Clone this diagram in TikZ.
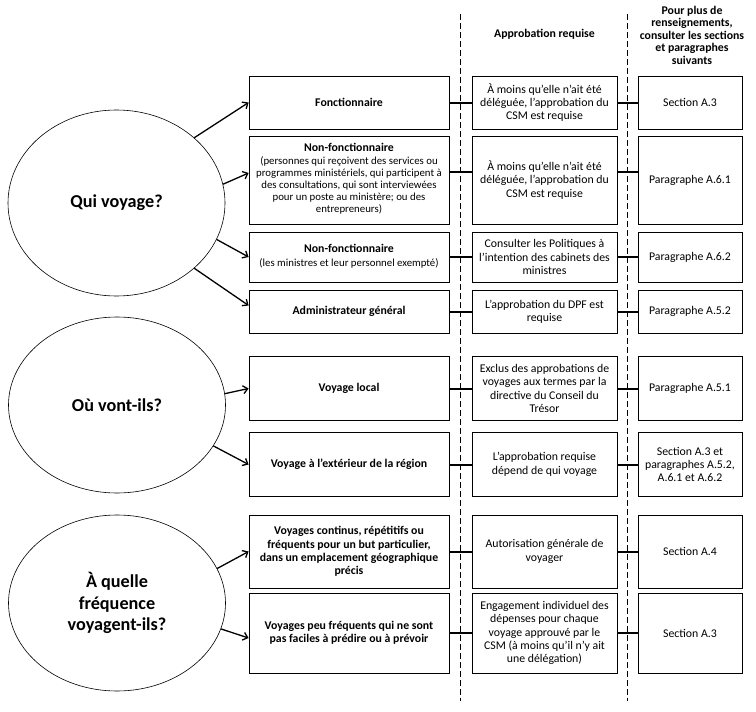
\documentclass[tikz,border=0pt]{standalone}
\usepackage{fontspec}
\setmainfont{Carlito}
\usetikzlibrary{arrows.meta}
\usetikzlibrary{shapes.geometric}
\newcommand{\smalltxt}[1]{{\fontsize{10.8}{12}\selectfont\begin{tabular}[t]{@{}c@{}}#1\end{tabular}}}

\begin{document}
\begin{tikzpicture}[x=1pt,y=-1pt,>={Straight Barb[length=4.5pt,width=8pt]},
		quest/.style={draw,ellipse,line width=0.6pt,minimum width=217pt,minimum height=186pt,inner sep=0pt,align=center,font=\fontsize{18.2}{21.7}\selectfont\bfseries},
		box/.style={draw,line width=0.8pt,inner sep=0pt,align=center,font=\fontsize{11.8}{13.3}\selectfont},
		colA/.style={box,minimum width=200pt},
		colB/.style={box,minimum width=145pt},
		colC/.style={box,minimum width=104pt},
		head/.style={align=center,font=\fontsize{11.8}{12.5}\selectfont\bfseries},
		arr/.style={->,line width=1.3pt},
		link/.style={line width=2pt}]
		\useasboundingbox (0,0) rectangle (756,712);
		\node[head] (h2) at (544.5,34) {Approbation requise};
		\node[head] (h3) at (692,35) {Pour plus de\\renseignements,\\consulter les sections\\et paragraphes\\suivants};
		\coordinate (d1top) at (460,14);
		\coordinate (d1bot) at (460,701);
		\coordinate (d2top) at (627,14);
		\coordinate (d2bot) at (627,701);
		\draw[line width=0.8pt,dash pattern=on 6pt off 3pt] (d1top) -- (d1bot);
		\draw[line width=0.8pt,dash pattern=on 6pt off 3pt] (d2top) -- (d2bot);
		
		\node[quest] (qui) at (116.5,203) {Qui voyage?};
		\node[quest,minimum height=176pt] (ou) at (117,405) {Où vont-ils?};
		\node[quest,minimum height=176pt] (freq) at (117,603) {À quelle\\fréquence\\voyagent-ils?};
		
		\node[colA,minimum height=53pt] (a1) at (349,102.5) {\textbf{Fonctionnaire}};
		\node[colB,minimum height=53pt] (b1) at (544.5,102.5) {À moins qu’elle n’ait été\\déléguée, l’approbation du\\CSM est requise};
		\node[colC,minimum height=53pt] (c1) at (690,102.5) {Section A.3};
		
		\node[colA,minimum height=88pt] (a2) at (349,180) {\textbf{Non-fonctionnaire}\\\smalltxt{(personnes qui reçoivent des services ou\\programmes ministériels, qui participent à\\des consultations, qui sont interviewées\\pour un poste au ministère; ou des\\entrepreneurs)}};
		\node[colB,minimum height=88pt] (b2) at (544.5,180) {À moins qu’elle n’ait été\\déléguée, l’approbation du\\CSM est requise};
		\node[colC,minimum height=88pt] (c2) at (690,180) {Paragraphe A.6.1};
		
		\node[colA,minimum height=50pt] (a3) at (349,257) {\textbf{Non-fonctionnaire}\\\smalltxt{(les ministres et leur personnel exempté)}};
		\node[colB,minimum height=50pt] (b3) at (544.5,257) {Consulter les Politiques à\\l’intention des cabinets des\\ministres};
		\node[colC,minimum height=50pt] (c3) at (690,257) {Paragraphe A.6.2};
		
		\node[colA,minimum height=43pt] (a4) at (349,311.5) {\textbf{Administrateur général}};
		\node[colB,minimum height=43pt] (b4) at (544.5,311.5) {L’approbation du DPF est\\requise};
		\node[colC,minimum height=43pt] (c4) at (690,311.5) {Paragraphe A.5.2};
		
		\node[colA,minimum height=64pt] (a5) at (349,388.5) {\textbf{Voyage local}};
		\node[colB,minimum height=64pt] (b5) at (544.5,388.5) {Exclus des approbations de\\voyages aux termes par la\\directive du Conseil du\\Trésor};
		\node[colC,minimum height=64pt] (c5) at (690,388.5) {Paragraphe A.5.1};
		
		\node[colA,minimum height=64pt] (a6) at (349,464.5) {\textbf{Voyage à l’extérieur de la région}};
		\node[colB,minimum height=64pt] (b6) at (544.5,464.5) {L’approbation requise\\dépend de qui voyage};
		\node[colC,minimum height=64pt] (c6) at (690,464.5) {Section A.3 et\\paragraphes A.5.2,\\A.6.1 et A.6.2};
		
		\node[colA,minimum height=73pt] (a7) at (349,551.5) {\textbf{Voyages continus, répétitifs ou}\\\textbf{fréquents pour un but particulier,}\\\textbf{dans un emplacement géographique}\\\textbf{précis}};
		\node[colB,minimum height=73pt] (b7) at (544.5,551.5) {Autorisation générale de\\voyager};
		\node[colC,minimum height=73pt] (c7) at (690,551.5) {Section A.4};
		
		\node[colA,minimum height=80pt] (a8) at (349,633) {\textbf{Voyages peu fréquents qui ne sont}\\\textbf{pas faciles à prédire ou à prévoir}};
		\node[colB,minimum height=80pt] (b8) at (544.5,633) {Engagement individuel des\\dépenses pour chaque\\voyage approuvé par le\\CSM (à moins qu’il n’y ait\\une délégation)};
		\node[colC,minimum height=80pt] (c8) at (690,633) {Section A.3};
		
		\foreach \r/\s in {1/0,2/8,3/0,4/0,5/0,6/0,7/0,8/0}
		\draw[link] ([yshift=\s pt]a\r.east) -- ([yshift=\s pt]b\r.west) ([yshift=\s pt]b\r.east) -- ([yshift=\s pt]c\r.west);
		
		\draw[arr] (qui.40) -- (a1.west);
		\draw[arr] (qui.10) -- ([yshift=7pt]a2.west);
		\draw[arr] (qui.-20) -- (a3.west);
		\draw[arr] (qui.-40) -- ([yshift=6pt]a4.west);
		\draw[arr] (ou.6) -- (a5.west);
		\draw[arr] (ou.-23) -- (a6.west);
		\draw[arr] (freq.19) -- (a7.west);
		\draw[arr] (freq.-14) -- ([yshift=-5pt]a8.west);
\end{tikzpicture}
\end{document}
